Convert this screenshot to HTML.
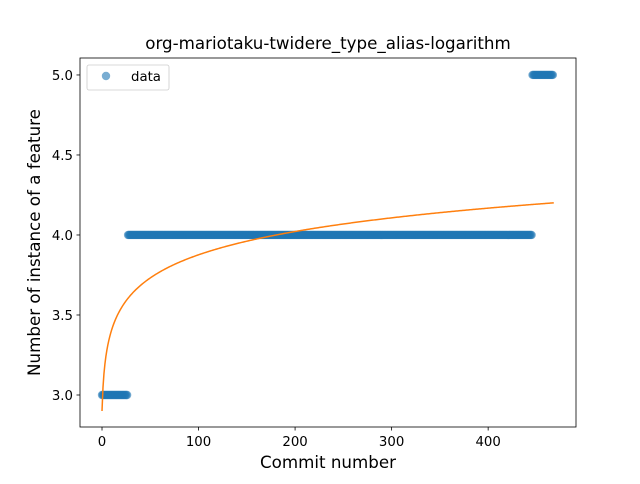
<!DOCTYPE html>
<html><head><meta charset="utf-8"><style>
body{margin:0;background:#fff;font-family:"DejaVu Sans","Liberation Sans",sans-serif;}
svg text{font-family:"DejaVu Sans","Liberation Sans",sans-serif;}
</style></head><body>
<svg id="chart" width="640" height="480" xmlns="http://www.w3.org/2000/svg">
<rect width="640" height="480" fill="#fff"/>
<g id="plot"></g>
</svg>
<script>
// data segments: [startCommit, endCommit, value]
const segStarts = [0, 27, 446];
const segEnds = [26, 445, 467];
const segValues = [3, 4, 5];
const fitA = 2.9, fitB = 0.2115, fitMaxX = 468;
const xTicks = [0, 100, 200, 300, 400];
const yTicks = [3.0, 3.5, 4.0, 4.5, 5.0];

const L=80,R=576,T=58,B=427;
const xMin=-22.8,xMax=491,yMin=2.8,yMax=5.106;
const sx=v=>L+(v-xMin)/(xMax-xMin)*(R-L);
const sy=v=>B-(v-yMin)/(yMax-yMin)*(B-T);
const NS="http://www.w3.org/2000/svg";
const g=document.getElementById('plot');
function mk(tag,attrs,parent){const e=document.createElementNS(NS,tag);for(const k in attrs)e.setAttribute(k,attrs[k]);(parent||g).appendChild(e);return e;}

const pts=mk('g',{});


for(let s=0;s<segStarts.length;s++){
  for(let x=segStarts[s];x<=segEnds[s];x++){
    const c=mk('circle',{cx:sx(x),cy:sy(segValues[s]),r:4.2,fill:'#1f77b4','fill-opacity':0.6},pts);
    
    
  }
}
let d='';
for(let x=0;x<=fitMaxX;x+=1){const y=fitA+fitB*Math.log(x+1);d+=(x?'L':'M')+sx(x).toFixed(2)+','+sy(y).toFixed(2);}
const fit=mk('path',{d:d,fill:'none',stroke:'#ff7f0e','stroke-width':1.5});



const frame=mk('rect',{x:L,y:T,width:R-L,height:B-T,fill:'none',stroke:'#000','stroke-width':0.8});



xTicks.forEach(v=>{
  const x=sx(v);
  mk('line',{x1:x,x2:x,y1:B,y2:B+3.5,stroke:'#000','stroke-width':0.8});
  const t=mk('text',{x:x,y:B+19,'text-anchor':'middle','font-size':13.3});
  t.textContent=v;
  
  
});
yTicks.forEach(v=>{
  const y=sy(v);
  mk('line',{x1:L-3.5,x2:L,y1:y,y2:y,stroke:'#000','stroke-width':0.8});
  const t=mk('text',{x:L-7,y:y+5,'text-anchor':'end','font-size':13.3});
  t.textContent=v.toFixed(1);
  
  
});

const title=mk('text',{x:(L+R)/2,y:49,'text-anchor':'middle','font-size':16.7});
title.textContent='org-mariotaku-twidere_type_alias-logarithm';


const xl=mk('text',{x:(L+R)/2,y:468,'text-anchor':'middle','font-size':16.7});
xl.textContent='Commit number';


const yl=mk('text',{x:0,y:0,'text-anchor':'middle','font-size':16.7,transform:'translate(40,'+((T+B)/2)+') rotate(-90)'});
yl.textContent='Number of instance of a feature';



const lg=mk('g',{});


mk('rect',{x:87,y:65,width:82,height:25,rx:2,fill:'#fff','fill-opacity':0.8,stroke:'#ccc','stroke-width':0.8},lg);
mk('circle',{cx:106,cy:76,r:4.2,fill:'#1f77b4','fill-opacity':0.6},lg);
const lt=mk('text',{x:131,y:81,'font-size':13.3},lg);
lt.textContent='data';


</script>
</body></html>
